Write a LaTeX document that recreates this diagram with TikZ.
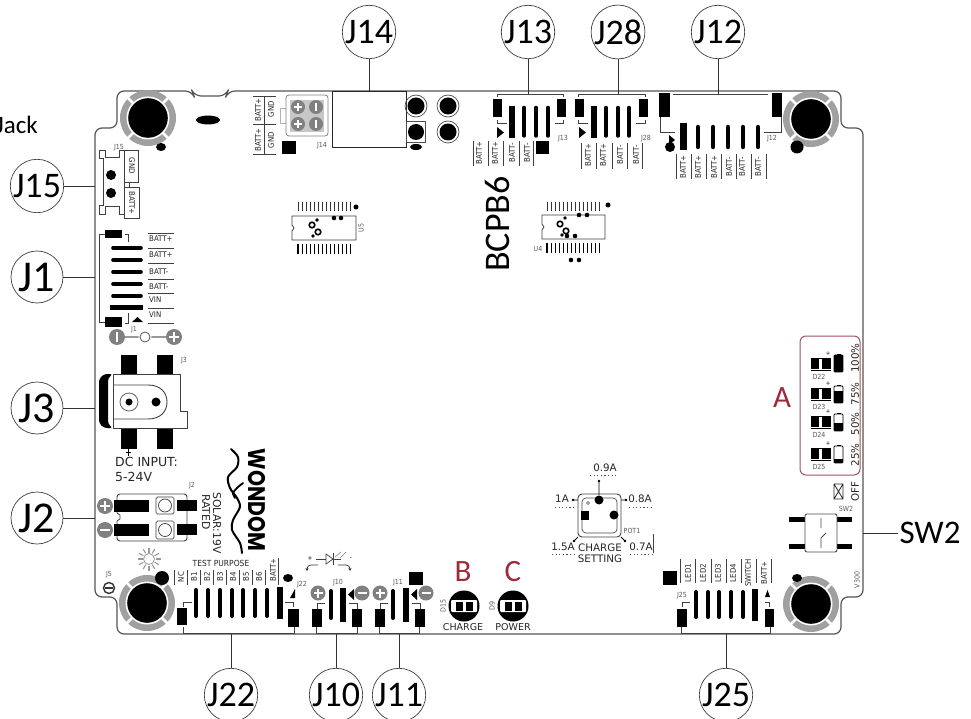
\documentclass[tikz,border=0pt]{standalone}
\usepackage{graphicx}
\usepackage{fontspec}
\setmainfont{Carlito}
\newfontfamily\dv{DejaVu Sans}
\newfontfamily\dvc{DejaVu Sans Condensed}
\newfontfamily\logofont{Poppins}
\usetikzlibrary{arrows.meta}
\definecolor{redmark}{HTML}{9E2A3A}
\definecolor{boxred}{HTML}{A0525E}
\definecolor{ringgray}{HTML}{A0A0A0}
\definecolor{linegray}{HTML}{555555}
\tikzset{
 callout/.style={circle,draw=black!75,fill=white,line width=0.7pt,minimum size=52pt,inner sep=0pt,font=\fontsize{36}{36}\selectfont},
 bigcallout/.style={callout,font=\fontsize{44}{44}\selectfont},
 lead/.style={draw=black!80,line width=0.8pt},
 board/.style={draw=linegray,line width=1.2pt,rounded corners=7pt},
 thinl/.style={draw=black!75,line width=0.7pt},
 small/.style={font=\dvc\fontsize{7.8}{7.8}\selectfont,text=black!85,inner sep=0pt},
 tiny/.style={font=\dvc\fontsize{7}{7}\selectfont,text=black!65,inner sep=0pt},
 dots/.style={draw=black!70,line width=0.7pt,dash pattern=on 1.2pt off 2.4pt},
 rating/.style={font=\dv\fontsize{10.3}{10.3}\selectfont,text=black!85,inner sep=0pt},
 redletter/.style={font=\fontsize{31}{31}\selectfont,text=redmark,inner sep=0pt},
}
\newcommand{\bx}[4]{\fill (#1,#2) rectangle (#3,#4);}
\newcommand{\up}[3]{\node[small,rotate=90] at (#1,#2) {#3};}
\newcommand{\dn}[3]{\node[small,rotate=-90] at (#1,#2) {#3};}
\newcommand{\hole}[2]{%
 \fill[ringgray] (#1,#2) circle[radius=28];
 \foreach \q in {45,135,225,315}{\draw[white,line width=2.8pt] (#1,#2) -- ++(\q:29);}
 \fill[white] (#1,#2) circle[radius=21.5];
 \fill[black] (#1,#2) circle[radius=19.8];}
\newcommand{\gplus}[3]{%
 \fill[black!50] (#1,#2) circle[radius=#3];
 \draw[white,line width=1.6pt] (#1-#3*0.6,#2) -- (#1+#3*0.6,#2) (#1,#2-#3*0.6) -- (#1,#2+#3*0.6);}
\newcommand{\gminh}[3]{%
 \fill[black!50] (#1,#2) circle[radius=#3];
 \draw[white,line width=1.6pt] (#1-#3*0.6,#2) -- (#1+#3*0.6,#2);}
\newcommand{\gminv}[3]{%
 \fill[black!50] (#1,#2) circle[radius=#3];
 \draw[white,line width=1.6pt] (#1,#2-#3*0.6) -- (#1,#2+#3*0.6);}
\newcommand{\via}[3]{\draw[black,line width=1.6pt] (#1,#2) circle[radius=#3];}
\newcommand{\dotc}[3]{\fill (#1,#2) circle[radius=#3];}
\newcommand{\batt}[3]{% x-left, y-top, level y
 \fill[black] (838.5-2,#2-1.5) rectangle (838.5+2,#2);
 \draw[black,line width=0.8pt,rounded corners=1pt] (#1,#2) rectangle (#1+9,#2+17);
 \fill[black] (#1,#3) rectangle (#1+9,#2+17);}
\newcommand{\led}[2]{% y of top, name
 \bx{811}{#1}{819}{#1+10}\bx{822}{#1}{831}{#1+10}
 \draw[black,line width=0.7pt] (811,#1-1) -- (831,#1-1) (811,#1+11) -- (831,#1+11);
 \node[tiny] at (819,#1+18) {#2};
 \node[font=\dvc\fontsize{6}{6}\selectfont,inner sep=0pt] at (828,#1-5) {+};}
\begin{document}
\begin{tikzpicture}[x=1pt,y=-1pt]
\useasboundingbox (0,0) rectangle (971,719);
\fill[white] (0,0) rectangle (971,719);

% board
\draw[board] (95,597) -- (95,128) -- (117,128) -- (117,91) -- (192,91) -- (194,96) -- (226,96) -- (228,91) -- (841,91) -- (841,128) -- (863,128) -- (863,597) -- (841,597) -- (841,634) -- (117,634) -- (117,597) -- cycle;

% stray text
\node[anchor=east,font=\fontsize{25}{25}\selectfont,inner sep=0pt] at (38,125) {Jack};

% mounting holes
\hole{148}{118}\hole{811}{119}\hole{147}{603}\hole{811}{604}
\fill (161,147) ellipse[x radius=5,y radius=4];
\dotc{797}{147}{6.5}
\dotc{162}{578}{7}
\fill (797,578) ellipse[x radius=5,y radius=4];
\fill (208,120) ellipse[x radius=12,y radius=4.5];

% J14
\draw[thinl] (253,96) -- (276,96) (253,124) -- (276,124) (253,154) -- (276,154) (264,96) -- (264,154);
\up{258}{110}{BATT+}\up{271}{109}{GND}\up{258}{140}{BATT+}\up{271}{140}{GND}
\draw[black!30,line width=0.7pt] (286,108) -- (280,108) -- (280,123) -- (286,123);
\draw[black!50,line width=0.8pt,rounded corners=3pt,fill=white] (286,95) rectangle (328,136);
\fill[black!22] (290,100) rectangle (324,132);
\gplus{298}{107}{7}\gminv{316}{107}{7}\gplus{298}{124}{7}\gminv{316}{124}{7}
\bx{282}{141}{296}{154}
\node[tiny] at (322,146) {J14};
\draw[black!85,line width=0.9pt,fill=white] (332,91) rectangle (406,147);
\draw[black!70,line width=0.8pt] (406,121) rectangle (425,142);
\foreach \a/\b in {416/106,448/106,448/132}{\draw[black!70,line width=0.7pt] (\a,\b) circle[radius=11]; \dotc{\a}{\b}{8.5}}
\dotc{416}{132}{8}
\fill (416,147) ellipse[x radius=6,y radius=3];

% J13
\draw[thinl] (497,97) -- (497,94) -- (563,94) -- (563,97);
\bx{493}{99}{502}{117}\bx{557}{99}{566}{117}\bx{509}{106}{515}{138}
\foreach \a in {524,536,548}{\draw[black,line width=3.5pt,line cap=round] (\a,107.5) -- (\a,136);}
\draw[thinl] (497,120) -- (497,123) -- (507,123) (555,123) -- (563,123) -- (563,120);
\fill (497,127) -- (504,132.5) -- (497,138) -- cycle;
\foreach \a/\t in {479/BATT+,495/BATT+,512/BATT-,527/BATT-}{\up{\a}{153}{\t}}
\foreach \a in {473,488,503,519,533}{\draw[thinl] (\a,141) -- (\a,166);}
\bx{536}{141}{549}{154}
\node[tiny] at (563,139) {J13};

% J28
\draw[thinl] (578,97) -- (578,94) -- (645,94) -- (645,97);
\bx{575}{99}{584}{117}\bx{639}{99}{648}{117}\bx{591}{106}{597}{138}
\foreach \a in {606,618,629}{\draw[black,line width=3.5pt,line cap=round] (\a,107.5) -- (\a,136);}
\draw[thinl] (578,120) -- (578,123) -- (588,123) (636,123) -- (645,123) -- (645,120);
\fill (579,127) -- (586,132.5) -- (579,138) -- cycle;
\foreach \a/\t in {588/BATT+,603/BATT+,620/BATT-,636/BATT-}{\up{\a}{155}{\t}}
\foreach \a in {581,596,612,627,642}{\draw[thinl] (\a,143) -- (\a,169);}
\node[tiny] at (646,139) {J28};

% J12
\bx{659}{93}{670}{117}\bx{772}{93}{782}{117}
\draw[thinl] (673,94) -- (768,94);
\bx{680}{123}{687}{150}
\foreach \a in {698,713,728,743,758}{\draw[black,line width=4.5pt,line cap=round] (\a,127) -- (\a,147);}
\draw[thinl] (660,117) -- (660,132) -- (675,132) (781,117) -- (781,132) -- (764,132);
\fill (669,135) -- (675,140) -- (669,145) -- cycle;
\dotc{670}{147}{5}
\node[tiny] at (772,139) {J12};
\foreach \a/\t in {683/BATT+,698/BATT+,714/BATT+,729/BATT-,742/BATT-,758/BATT-}{\up{\a}{167}{\t}}
\foreach \a in {676,691,706,721,736,751,766}{\draw[thinl] (\a,154) -- (\a,179);}

% BCPB6
\node[rotate=90,font=\fontsize{36}{36}\selectfont,inner sep=0pt] at (497,224) {BCPB6};

% U5
\foreach \i in {0,...,13}{\draw[black!80,line width=0.9pt] (298+\i*4.05,202) -- (298+\i*4.05,211); \draw[black,line width=1.1pt] (298+\i*4.05,244) -- (298+\i*4.05,254);}
\dotc{356}{207}{2.5}
\draw[black!75,line width=0.8pt] (292,216) -- (356,216) -- (356,240) -- (292,240) -- (292,231) -- (294,228) -- (292,225) -- cycle;
\via{312}{225}{2.8}\via{318}{232}{2.8}
\dotc{317}{220}{1.8}\dotc{313}{236}{1.8}\dotc{334}{218}{2.3}\dotc{341}{218}{2.3}
\node[tiny,rotate=90] at (361,228) {U5};

% U4
\foreach \i in {0,...,13}{\draw[black!80,line width=0.9pt] (547+\i*4.05,202) -- (547+\i*4.05,211); \draw[black,line width=1.1pt] (547+\i*4.05,243) -- (547+\i*4.05,253);}
\dotc{608}{205}{2.5}
\draw[black!75,line width=0.8pt] (542,215) -- (605,215) -- (605,239) -- (542,239) -- (542,230) -- (544,227) -- (542,224) -- cycle;
\via{560}{224}{2.8}\via{566}{231}{2.8}
\dotc{565}{218}{1.8}\dotc{579}{215}{2.3}\dotc{587}{215}{2.3}\dotc{562}{235}{1.8}\dotc{567}{236}{2.3}\dotc{575}{236}{2.3}\dotc{571}{260}{2.3}\dotc{579}{260}{2.3}
\node[tiny] at (538,249) {U4};

% J15
\draw[black!75,line width=0.8pt] (124,150) -- (119,150) -- (119,157) -- (105,157) -- (105,150) -- (99,150) -- (99,158) -- (103,158) -- (103,205) -- (99,205) -- (99,214) -- (105,214) -- (105,206) -- (119,206) -- (119,214) -- (124,214) -- cycle;
\dotc{111}{175}{5}\dotc{111}{193}{5}
\draw[black!75,line width=0.8pt] (124,150) rectangle (138,182) (124,187) rectangle (139,218) (124,182) rectangle (129,187);
\dn{132}{166}{GND}\dn{132}{203}{BATT+}
\node[tiny] at (119,148) {J15};

% J1
\draw[thinl] (105,234) -- (99,234) -- (99,322) -- (105,322);
\bx{105}{230}{122}{238}\bx{105}{317}{122}{327}
\foreach \b in {248,260,272,284,296}{\draw[black,line width=3.6pt,line cap=round] (113,\b) -- (141,\b);}
\bx{110}{305}{143}{310}
\draw[thinl] (125,234) -- (128,234) -- (128,242) (128,313) -- (128,323) -- (125,323);
\fill (132,322) -- (137.5,317) -- (143,322) -- cycle;
\foreach \b/\t in {239/BATT+,255/BATT+,272/BATT-,287/BATT-,300/VIN,315/VIN}{\node[small,anchor=west] at (149,\b) {\t};}
\foreach \b in {233,248,263,279,293,308,323}{\draw[thinl] (148,\b) -- (174,\b);}
\draw[black!40,line width=2.5pt] (117,337) -- (174,337);
\gminv{117}{337}{8}\gplus{174}{337}{8}
\fill[white] (145,337) circle[radius=6.5];
\draw[black!60,line width=0.9pt] (145,337) circle[radius=5];
\node[tiny] at (134,330) {J1};

% J3
\bx{121}{355}{137}{374}\bx{157}{355}{173}{374}\bx{121}{429}{137}{449}\bx{157}{429}{173}{449}
\draw[black!75,line width=0.9pt] (113,374) -- (180,374) -- (180,411) -- (187,411) -- (187,428) -- (113,428);
\draw[black!75,line width=0.9pt] (113,374) -- (113,428);
\fill[black,rounded corners=3pt] (113,374) -- (104,374) -- (99,379) -- (99,423) -- (104,428) -- (113,428) -- (108,424) -- (108,378) -- cycle;
\draw[black!75,line width=0.9pt] (113,385) -- (148,385) .. controls (160,385) and (167,392) .. (167,402) .. controls (167,412) and (160,419) .. (148,419) -- (113,419);
\draw[black!60,line width=0.8pt] (129,402) circle[radius=9];
\dotc{129}{402}{3.5}\dotc{156}{402}{4.5}
\draw[black,line width=0.7pt] (128,449) -- (128,456) (125.5,452) -- (130.5,452);
\node[tiny] at (184,361) {J3};
\node[anchor=west,font=\dv\fontsize{12.5}{12.5}\selectfont,inner sep=0pt,text=black!85] at (115,462) {DC INPUT:};
\node[anchor=west,font=\dv\fontsize{12.5}{12.5}\selectfont,inner sep=0pt,text=black!85] at (115,477) {5-24V};

% J2
\draw[black!75,line width=0.9pt,rounded corners=3pt] (117,494) rectangle (187,541);
\fill[white] (114,513) rectangle (119,521);
\draw[black!75,line width=0.8pt] (117,513) -- (120,515) -- (120,519) -- (117,521);
\gplus{105}{506}{8}\gminh{105}{530}{8}
\bx{114}{500}{149}{512}\bx{114}{524}{149}{536}
\draw[black!75,line width=0.7pt,rounded corners=1.5pt] (156,497) rectangle (174,514) (156,521) rectangle (174,539);
\draw[black!75,line width=0.7pt] (165,505.5) circle[radius=6.5] (165,530) circle[radius=6.5];
\bx{177}{500}{197}{511}\bx{177}{524}{197}{535}
\node[tiny] at (192,486) {J2};
\node[rotate=-90,font=\dv\fontsize{10.8}{10.8}\selectfont,inner sep=0pt,text=black!85] at (217,523) {SOLAR:19V};
\node[rotate=-90,font=\dv\fontsize{10.8}{10.8}\selectfont,inner sep=0pt,text=black!85] at (206,512) {RATED};

% logo
\node[rotate=-90,font=\logofont\bfseries\fontsize{24}{24}\selectfont,inner sep=0pt] at (257,500) {\scalebox{0.85}[1]{WONDOM}};
\draw[black,line width=2pt,line cap=round] plot[smooth] coordinates {(231,449) (238,457) (237,467) (228,477) (230,488) (237,498) (240,507) (233,520) (232,530) (240,543) (242,553)};
\draw[black,line width=1.8pt,line cap=round] plot[smooth] coordinates {(243,483) (237,488) (233,493) (235,498)};

% sun
\foreach \q in {0,30,...,330}{\draw[black!40,line width=1.1pt] (149,559) ++(\q:6.5) -- ++(\q:5);}
\draw[black!40,line width=0.8pt] (149,559) circle[radius=5.5];

% J5
\node[tiny] at (109,575) {J5};
\draw[black!80,line width=1.4pt] (109,588) circle[radius=5.5];
\draw[black!80,line width=1.2pt] (105,588) -- (113,588);

% J22
\node[font=\dvc\fontsize{8.4}{8.4}\selectfont,text=black!85,inner sep=0pt] at (221,563) {TEST PURPOSE};
\foreach \a/\t in {181/NC,194/B1,207/B2,220/B3,233/B4,246/B5,259/B6}{\up{\a}{577}{\t}}
\up{273}{570}{BATT+}
\foreach \a in {174,187,200,213,226,239,252,265}{\draw[thinl] (\a,570) -- (\a,585);}
\draw[thinl] (278,558) -- (278,585);
\foreach \a in {196,208,220,232,243,255,267}{\draw[black,line width=4pt,line cap=round] (\a,590) -- (\a,616);}
\bx{277}{587}{283}{619}\bx{177}{608}{187}{625}\bx{288}{609}{299}{627}
\draw[thinl] (183,607) -- (183,602) -- (192,602) (293,607) -- (293,602) -- (285,602);
\fill (290,598) -- (295,589) -- (295,598) -- cycle;
\fill (288,578) ellipse[x radius=5,y radius=4];
\node[tiny] at (302,585) {J22};
\draw[thinl] (183,627) -- (183,633) -- (294,633) -- (294,627);

% LED symbol
\draw[black!75,line width=0.7pt] (316,559) -- (326,559) (333,559) -- (341,559) (333,553) -- (333,565);
\draw[black!75,line width=0.7pt] (326,554) -- (333,559) -- (326,564) -- cycle;
\draw[black!40,line width=0.7pt] (335,557) -- (341,552) (340,558) -- (346,552);
\node[font=\dvc\fontsize{6.5}{6.5}\selectfont,inner sep=0pt] at (310,558) {+};
\node[font=\dvc\fontsize{6.5}{6.5}\selectfont,inner sep=0pt] at (351,558) {-};
\draw[black!80,line width=0.7pt,-{Stealth[length=3pt,width=3pt]}] (318,565) -- (311,565) .. controls (308,565) and (307,567) .. (307,571);
\draw[black!80,line width=0.7pt,-{Stealth[length=3pt,width=3pt]}] (338,565) -- (346,565) .. controls (349,565) and (350,567) .. (350,571);

% J10
\gplus{318}{593}{7.5}\gminh{362}{593}{7.5}
\bx{312}{609}{322}{627}\bx{352}{609}{362}{627}
\draw[black,line width=4pt,line cap=round] (331,591) -- (331,618);
\bx{340}{588}{346}{622}
\fill (354,589) -- (348,594.5) -- (354,600) -- cycle;
\draw[thinl] (317,609) -- (317,603) -- (325,603) (357,609) -- (357,603) -- (349,603);
\draw[thinl] (316,627) -- (316,633) -- (357,633) -- (357,627);
\node[tiny] at (338,583) {J10};

% J11
\gplus{380}{593}{7.5}\gminh{426}{593}{7.5}
\bx{375}{609}{385}{627}\bx{415}{609}{425}{627}
\draw[black,line width=4pt,line cap=round] (393,591) -- (393,618);
\bx{403}{588}{409}{622}
\fill (417,589) -- (411,594.5) -- (417,600) -- cycle;
\draw[thinl] (380,609) -- (380,603) -- (388,603) (420,609) -- (420,603) -- (412,603);
\draw[thinl] (379,627) -- (379,633) -- (419,633) -- (419,627);
\bx{409}{572}{423}{585}
\node[tiny] at (398,583) {J11};

% D15, D9
\foreach \a in {464,513}{
 \dotc{\a}{606}{15.5}
 \fill[white,rounded corners=1pt] (\a-13,600) rectangle (\a+13,612);
 \bx{\a-8}{601.5}{\a-1}{610.5}\bx{\a+2}{601.5}{\a+9}{610.5}}
\node[tiny,rotate=90] at (443,606) {D15};
\node[tiny,rotate=90] at (492,606) {D9};
\node[font=\dv\fontsize{9.5}{9.5}\selectfont,inner sep=0pt,text=black!85] at (463,627) {CHARGE};
\node[font=\dv\fontsize{9.5}{9.5}\selectfont,inner sep=0pt,text=black!85] at (513,627) {POWER};
\node[redletter] at (463,572) {B};
\node[redletter] at (513,572) {C};
\node[redletter] at (782,398) {A};

% POT1
\draw[black!75,line width=0.9pt,rounded corners=4pt] (578,494) rectangle (621,537);
\draw[black!70,line width=0.7pt,rounded corners=4pt] (582,498) rectangle (617,533);
\dotc{599}{500}{4.5}\dotc{614}{515}{4.5}\bx{581}{511}{589}{520}
\draw[black!70,line width=0.6pt] (588,503) circle[radius=1.5];
\draw[black,line width=0.8pt] (599,495) -- (599,481) (573,500) -- (578,500) (626,500) -- (621,500) (574,541) -- (578,537) (625,541) -- (621,537);
\dotc{599}{481}{1.4}\dotc{573}{500}{1.4}\dotc{626}{500}{1.4}\dotc{574}{541}{1.4}\dotc{625}{541}{1.4}
\node[rating] at (605,468) {0.9A};
\node[rating] at (562,499) {1A};
\node[rating] at (640,499) {0.8A};
\node[rating] at (563,547) {1.5A};
\node[rating] at (641,547) {0.7A};
\draw[dots] (590,475) -- (616,475) (555,507) -- (574,507) (629,507) -- (653,507) (552,554) -- (575,554) (630,554) -- (652,554);
\draw[thinl] (653,534) -- (653,553);
\node[rating] at (600,548) {CHARGE};
\node[rating] at (600,559) {SETTING};
\node[tiny] at (632,531) {POT1};

% battery box
\draw[boxred,line width=1pt,rounded corners=6pt] (800,336) rectangle (860,475);
\led{359}{D22}\led{389}{D23}\led{417}{D24}\led{449}{D25}
\batt{834}{355}{355}\batt{834}{386}{391}\batt{834}{414}{423}\batt{834}{446}{459}
\node[rating,rotate=90] at (855,358) {100\%};
\node[rating,rotate=90] at (855,394) {75\%};
\node[rating,rotate=90] at (855,424) {50\%};
\node[rating,rotate=90] at (855,455) {25\%};
\node[rating,rotate=90] at (855,492) {OFF};
\draw[black!85,line width=0.8pt] (834,484) rectangle (843,499) (834,484) -- (843,499) (843,484) -- (834,499);

% SW2
\bx{789}{517}{805}{522}\bx{789}{544}{805}{549}\bx{837}{517}{852}{522}\bx{837}{544}{852}{549}
\draw[black!70,line width=0.9pt,rounded corners=2pt] (805,514) rectangle (837,552);
\draw[black!70,line width=0.9pt] (821,518) -- (821,528) (826,533) -- (821,538) -- (821,548);
\node[tiny] at (846,509) {SW2};
\node[tiny,rotate=90] at (857,580) {V300};

% J25
\foreach \a/\t in {688/LED1,703/LED2,718/LED3,733/LED4,748/SWITCH,764/BATT+}{\up{\a}{573}{\t}}
\foreach \a in {680,695,711,726,741,756,771}{\draw[thinl] (\a,559) -- (\a,583);}
\foreach \a in {696,708,719,731,743}{\draw[black,line width=4pt,line cap=round] (\a,592) -- (\a,617);}
\bx{752}{589}{758}{621}\bx{677}{609}{687}{627}\bx{765}{609}{774}{627}
\draw[thinl] (682,607) -- (682,602) -- (690,602) (769,607) -- (769,602) -- (765,602);
\fill (765,597) -- (767.5,590) -- (770,597) -- cycle;
\bx{663}{571}{677}{585}
\node[tiny] at (682,596) {J25};
\draw[thinl] (681,627) -- (681,633) -- (770,633) -- (770,627);

% callouts
\node[callout] (J15) at (37,186) {J15};
\node[bigcallout] (J1) at (37,277) {J1};
\node[bigcallout] (J3) at (37,408) {J3};
\node[bigcallout] (J2) at (37,518) {J2};
\node[callout] (J14) at (369,32) {J14};
\node[callout] (J13) at (528,32) {J13};
\node[callout] (J28) at (618,32) {J28};
\node[callout] (J12) at (718,32) {J12};
\node[callout] (J22) at (231,695) {J22};
\node[callout] (J10) at (336,695) {J10};
\node[callout] (J11) at (399,695) {J11};
\node[callout] (J25) at (726,695) {J25};
\node[inner sep=1pt,font=\fontsize{33}{33}\selectfont] (SW) at (930,533) {SW2};
\coordinate (e15) at (95,186);\coordinate (e1) at (95,277);\coordinate (e3) at (95,408);\coordinate (e2) at (95,518);
\coordinate (e14) at (369,91);\coordinate (e13) at (528,94);\coordinate (e28) at (618,94);\coordinate (e12) at (718,94);
\coordinate (e22) at (231,634);\coordinate (e10) at (336,634);\coordinate (e11) at (399,634);\coordinate (e25) at (726,634);\coordinate (eSW) at (863,533);
\draw[lead] (J15) -- (e15) (J1) -- (e1) (J3) -- (e3) (J2) -- (e2) (J14) -- (e14) (J13) -- (e13) (J28) -- (e28) (J12) -- (e12) (J22) -- (e22) (J10) -- (e10) (J11) -- (e11) (J25) -- (e25) (SW) -- (eSW);
\end{tikzpicture}
\end{document}
